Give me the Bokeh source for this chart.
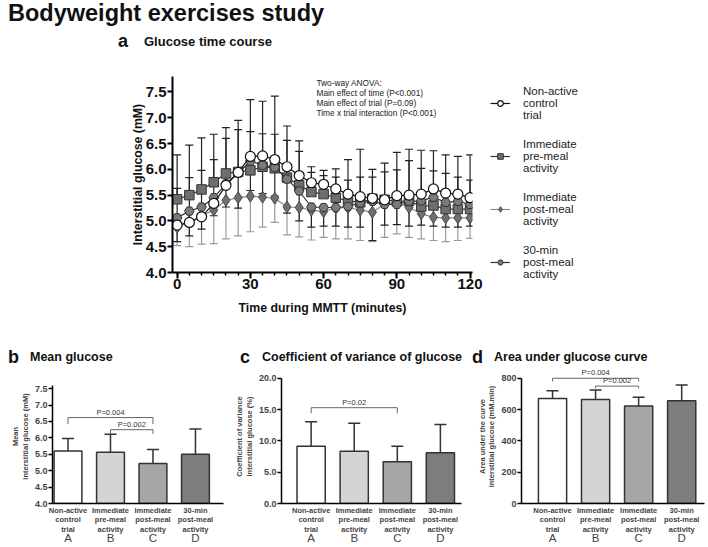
from bokeh.plotting import figure
from bokeh.models import (FixedTicker, Label, Legend, LegendItem, LinearAxis, Range1d,
                          NumeralTickFormatter, Div)
from bokeh.layouts import column, row
from bokeh.embed import file_html
from bokeh.resources import INLINE
from bokeh.core.properties import value

FONT = "Liberation Sans"

# ---------------- data: glucose time course ----------------
time_min = list(range(0, 121, 5))
ctrl_mean = [4.92, 4.97, 5.08, 5.34, 5.69, 5.94, 6.25, 6.26, 6.19, 6.05, 5.88, 5.74, 5.71,
             5.62, 5.52, 5.47, 5.44, 5.41, 5.49, 5.50, 5.52, 5.62, 5.54, 5.52, 5.45]
ctrl_sd = [0.71, 0.87, 0.90, 0.85, 0.91, 0.83, 0.48, 0.43, 0.49, 0.51, 0.47, 0.20, 0.17,
           0.23, 0.27, 0.38, 0.41, 0.54, 0.50, 0.67, 0.50, 0.35, 0.38, 0.33, 0.34]
pre_mean = [5.42, 5.50, 5.61, 5.75, 5.92, 5.95, 5.98, 6.05, 6.02, 5.84, 5.69, 5.56, 5.52,
            5.45, 5.39, 5.36, 5.43, 5.41, 5.38, 5.39, 5.28, 5.30, 5.23, 5.23, 5.23]
pre_sd = [0.86, 0.97, 1.00, 0.93, 0.89, 1.00, 1.37, 1.27, 1.40, 1.00, 0.86, 0.49, 0.46,
          0.56, 0.80, 1.03, 0.57, 0.71, 0.95, 1.00, 1.09, 1.06, 1.05, 1.02, 1.05]
post_mean = [4.88, 4.98, 5.10, 5.21, 5.40, 5.45, 5.48, 5.46, 5.44, 5.27, 5.26, 5.21, 5.18,
             5.25, 5.26, 5.21, 5.17, 5.33, 5.36, 5.26, 5.14, 5.07, 5.06, 5.06, 5.06]
post_sd = [0.36, 0.48, 0.55, 0.65, 0.75, 0.74, 0.69, 0.58, 0.47, 0.54, 0.57, 0.58, 0.50,
           0.60, 0.61, 0.59, 0.57, 0.65, 0.61, 0.58, 0.49, 0.45, 0.46, 0.44, 0.40]
min30_mean = [5.06, 5.19, 5.27, 5.45, 5.72, 5.93, 6.16, 6.08, 6.04, 5.81, 5.58, 5.27, 5.26,
              5.26, 5.28, 5.35, 5.38, 5.32, 5.32, 5.38, 5.39, 5.46, 5.36, 5.38, 5.32]
min30_sd = [0.46, 0.48, 0.43, 0.35, 0.45, 0.68, 0.57, 0.55, 0.56, 0.66, 0.58, 0.39, 0.36,
            0.36, 0.40, 0.47, 0.76, 0.40, 0.39, 0.48, 0.47, 0.56, 0.48, 0.50, 0.42]

x_ticks_a = [0, 30, 60, 90, 120]
y_ticks_a = [4.0, 4.5, 5.0, 5.5, 6.0, 6.5, 7.0, 7.5]
anova_lines = ["Two-way ANOVA:", "Main effect of time (P<0.001)",
               "Main effect of trial (P=0.09)", "Time x trial interaction (P<0.001)"]

# ---------------- data: summary bars ----------------
trial_names = ["Non-active\ncontrol\ntrial", "Immediate\npre-meal\nactivity",
               "Immediate\npost-meal\nactivity", "30-min\npost-meal\nactivity"]
trial_letters = ["A", "B", "C", "D"]
trial_pos = [1, 2, 3, 4]
mean_glucose = [5.60, 5.56, 5.22, 5.50]
mean_glucose_sd = [0.38, 0.55, 0.43, 0.77]
cv_glucose = [9.15, 8.35, 6.65, 8.10]
cv_glucose_sd = [3.90, 4.45, 2.50, 4.50]
auc_glucose = [671, 665, 623, 657]
auc_glucose_sd = [50, 60, 55, 100]

mean_brackets = [(1, 3, 6.62, 6.42, "P=0.004"), (2, 3, 6.25, 6.12, "P=0.002")]
cv_brackets = [(1, 3, 15.3, 14.4, "P=0.02")]
auc_brackets = [(1, 3, 800, 780, "P=0.004"), (2, 3, 750, 735, "P=0.002")]

bar_colors = ["#ffffff", "#d4d4d4", "#a6a6a6", "#7d7d7d"]


def span(txt, left, top, size, bold=True, color="#111111"):
    w = "bold" if bold else "normal"
    return (f'<span style="position:absolute;left:{left}px;top:{top}px;'
            f'font-family:\'Liberation Sans\';font-size:{size}px;font-weight:{w};'
            f'line-height:1;white-space:nowrap;color:{color}">{txt}</span>')


def box(inner, w, h):
    return f'<div style="position:relative;width:{w}px;height:{h}px">{inner}</div>'


W = 708
head = Div(text=box(span("Bodyweight exercises study", 8, 2, 23.5) +
                    span("a", 118, 32, 18) + span("Glucose time course", 144, 35, 13), W, 56),
           width=W, height=56, margin=0)
sub = Div(text=box(span("b", 8, 20, 18) + span("Mean glucose", 30, 23, 12.5) +
                   span("c", 240, 20, 18) + span("Coefficient of variance of glucose", 262, 23, 12.5) +
                   span("d", 472, 20, 18) + span("Area under glucose curve", 494, 23, 12.5), W, 38),
          width=W, height=38, margin=0)

# ---------------- panel a ----------------
p = figure(x_range=Range1d(-1.9, 121), y_range=Range1d(4.0, 7.8),
           frame_width=300, frame_height=196,
           min_border_left=172, min_border_right=W - 172 - 300, min_border_top=20,
           min_border_bottom=56,
           output_backend="svg", toolbar_location=None, outline_line_color=None)
p.grid.visible = False

xa = p.xaxis[0]
xa.ticker = FixedTicker(ticks=x_ticks_a, minor_ticks=time_min)
xa.axis_label = "Time during MMTT (minutes)"
ya = p.yaxis[0]
ya.ticker = FixedTicker(ticks=y_ticks_a)
ya.formatter = NumeralTickFormatter(format="0.0")
ya.axis_label = "Interstitial glucose (mM)"
for ax in (xa, ya):
    ax.axis_line_width = 2
    ax.major_tick_line_width = 2
    ax.minor_tick_line_width = 1.5
    ax.major_tick_out = 6
    ax.major_tick_in = 0
    ax.minor_tick_in = 0
    ax.minor_tick_out = 3
    ax.major_label_text_font = FONT
    ax.major_label_text_font_style = "bold"
    ax.major_label_text_font_size = "15px"
    ax.major_label_text_color = "#111111"
    ax.axis_label_text_font = FONT
    ax.axis_label_text_font_style = "bold"
    ax.axis_label_text_font_size = "12.3px"
    ax.axis_label_text_color = "#111111"
ya.minor_tick_line_color = None
ya.major_tick_out = 5
ya.major_label_standoff = 1
xa.major_label_standoff = 0
xa.axis_label_standoff = 9
ya.axis_label_standoff = -2


def errbars(fig, mean, sd, sign, color, width=1.2):
    ends = [m + sign * s for m, s in zip(mean, sd)]
    fig.segment(x0=time_min, y0=mean, x1=time_min, y1=ends, line_color=color, line_width=width)
    fig.scatter(x=time_min, y=ends, marker="dash", size=8, line_color=color, line_width=width)


errbars(p, post_mean, post_sd, -1, "#9a9a9a")
errbars(p, min30_mean, min30_sd, -1, "#222222")
errbars(p, pre_mean, pre_sd, 1, "#222222")
errbars(p, ctrl_mean, ctrl_sd, 1, "#222222")

l_post = p.line(time_min, post_mean, line_color="#8a8a8a", line_width=1.2)
m_post = p.scatter(time_min, post_mean, marker="diamond", size=12, fill_color="#6f6f6f",
                   line_color="#4a4a4a", line_width=1)
l_pre = p.line(time_min, pre_mean, line_color="#333333", line_width=1.2)
m_pre = p.scatter(time_min, pre_mean, marker="square", size=9.5, fill_color="#6e6e6e",
                  line_color="#333333", line_width=1)
l_m30 = p.line(time_min, min30_mean, line_color="#333333", line_width=1.2)
m_m30 = p.scatter(time_min, min30_mean, marker="hex", size=9.5, fill_color="#7a7a7a",
                  line_color="#333333", line_width=1)
l_ctrl = p.line(time_min, ctrl_mean, line_color="#111111", line_width=1.2)
m_ctrl = p.scatter(time_min, ctrl_mean, marker="circle", size=10, fill_color="#ffffff",
                   line_color="#111111", line_width=1.2)

legend = Legend(items=[
    LegendItem(label="Non-active\ncontrol\ntrial", renderers=[l_ctrl, m_ctrl]),
    LegendItem(label="Immediate\npre-meal\nactivity", renderers=[l_pre, m_pre]),
    LegendItem(label="Immediate\npost-meal\nactivity", renderers=[l_post, m_post]),
    LegendItem(label="30-min\npost-meal\nactivity", renderers=[l_m30, m_m30]),
], location=(18, -8), glyph_width=20, glyph_height=14, label_standoff=13, spacing=17,
    padding=0, margin=0, border_line_color=None, background_fill_alpha=0,
    label_text_font=FONT, label_text_font_size="11.5px", label_text_line_height=1.17,
    label_text_color="#222222")
p.add_layout(legend, "right")

for i, line in enumerate(anova_lines):
    p.add_layout(Label(x=144, y=190 - 10 * i, x_units="screen", y_units="screen", text=line,
                       text_font=FONT, text_font_size="8.3px", text_baseline="middle",
                       text_color="#222222"))


# ---------------- bar panels ----------------
FIG_H = 181
B_TOP = 3
B_BOTTOM = 44


def bar_panel(fig_w, b_left, b_right, xr, yr, y_bounds, y_ticks, fmt, means, sds,
              ylabel, brackets):
    f_w = fig_w - b_left - b_right
    f_h = FIG_H - B_TOP - B_BOTTOM
    q = figure(x_range=Range1d(*xr), y_range=Range1d(*yr), frame_width=f_w, frame_height=f_h,
               min_border_left=b_left, min_border_right=b_right, min_border_top=B_TOP,
               min_border_bottom=B_BOTTOM,
               output_backend="svg", toolbar_location=None, outline_line_color=None)
    q.grid.visible = False
    q.vbar(x=trial_pos, top=means, bottom=yr[0], width=0.655, fill_color=bar_colors,
           line_color="#333333", line_width=1.5)
    tops = [m + s for m, s in zip(means, sds)]
    q.segment(x0=trial_pos, y0=means, x1=trial_pos, y1=tops, line_color="#333333", line_width=1.5)
    q.scatter(x=trial_pos, y=tops, marker="dash", size=12, line_color="#333333", line_width=1.5)
    for (a, b, h, leg, txt) in brackets:
        q.line([a, a, b, b], [leg, h, h, leg], line_color="#666666", line_width=1)
    q.text(x=[(a + b) / 2 for (a, b, h, leg, txt) in brackets],
           y=[h for (a, b, h, leg, txt) in brackets],
           text=[txt for (a, b, h, leg, txt) in brackets], text_font=value(FONT),
           text_font_size="7.5px", text_align="center", text_baseline="bottom",
           text_color="#333333", y_offset=-1)
    xa = q.xaxis[0]
    xa.ticker = FixedTicker(ticks=trial_pos)
    xa.major_label_overrides = {k: v for k, v in zip(trial_pos, trial_names)}
    xa.major_tick_line_color = None
    xa.minor_tick_line_color = None
    xa.major_tick_out = 0
    xa.minor_tick_out = 0
    xa.major_label_text_font = FONT
    xa.major_label_text_font_style = "bold"
    xa.major_label_text_font_size = "7.5px"
    xa.major_label_text_line_height = 1.1
    xa.major_label_standoff = 2
    xa.axis_line_width = 1.5
    ya = q.yaxis[0]
    ya.ticker = FixedTicker(ticks=y_ticks)
    ya.formatter = NumeralTickFormatter(format=fmt)
    ya.bounds = y_bounds
    ya.minor_tick_line_color = None
    ya.major_tick_out = 4
    ya.major_tick_in = 0
    ya.axis_line_width = 1.5
    ya.major_tick_line_width = 1.5
    ya.major_label_text_font = FONT
    ya.major_label_text_font_style = "bold"
    ya.major_label_text_font_size = "9px"
    ya.major_label_standoff = 1
    ya.axis_label = ylabel
    ya.axis_label_text_font = FONT
    ya.axis_label_text_font_style = "bold"
    ya.axis_label_text_font_size = "7.5px"
    ya.axis_label_text_line_height = 1.1
    ya.axis_label_standoff = 2
    ax2 = LinearAxis(ticker=FixedTicker(ticks=trial_pos),
                     major_label_overrides={k: v for k, v in zip(trial_pos, trial_letters)},
                     axis_line_color=None, major_tick_line_color=None, minor_tick_line_color=None,
                     major_tick_out=0, minor_tick_out=0,
                     major_label_text_font=FONT, major_label_text_font_size="11.5px",
                     major_label_text_line_height=1.0, major_label_standoff=-6)
    q.add_layout(ax2, "below")
    return q


# all frames share the same top (369) and bottom (503) edges
pb = bar_panel(232, 52, 9, (0.635, 4.66), (4.0, 8.085), (4.0, 7.6),
               [4.0, 4.5, 5.0, 5.5, 6.0, 6.5, 7.0, 7.5], "0.0", mean_glucose, mean_glucose_sd,
               "Mean\ninterstitial glucose (mM)", mean_brackets)
pc = bar_panel(234, 45, 9, (0.312, 4.49), (0, 21.4), (0, 20),
               [0, 5, 10, 15, 20], "0.0", cv_glucose, cv_glucose_sd,
               "Coefficient of variance\ninterstitial glucose (%)", cv_brackets)
pd_ = bar_panel(242, 51, 8, (0.279, 4.53), (0, 856), (0, 800),
                [0, 200, 400, 600, 800], "0", auc_glucose, auc_glucose_sd,
                "Area under the curve\ninterstitial glucose (mM.min)", auc_brackets)

layout = column(head, p, sub, row(pb, pc, pd_, spacing=0), spacing=0)
open("out.html", "w").write(file_html(layout, INLINE))
